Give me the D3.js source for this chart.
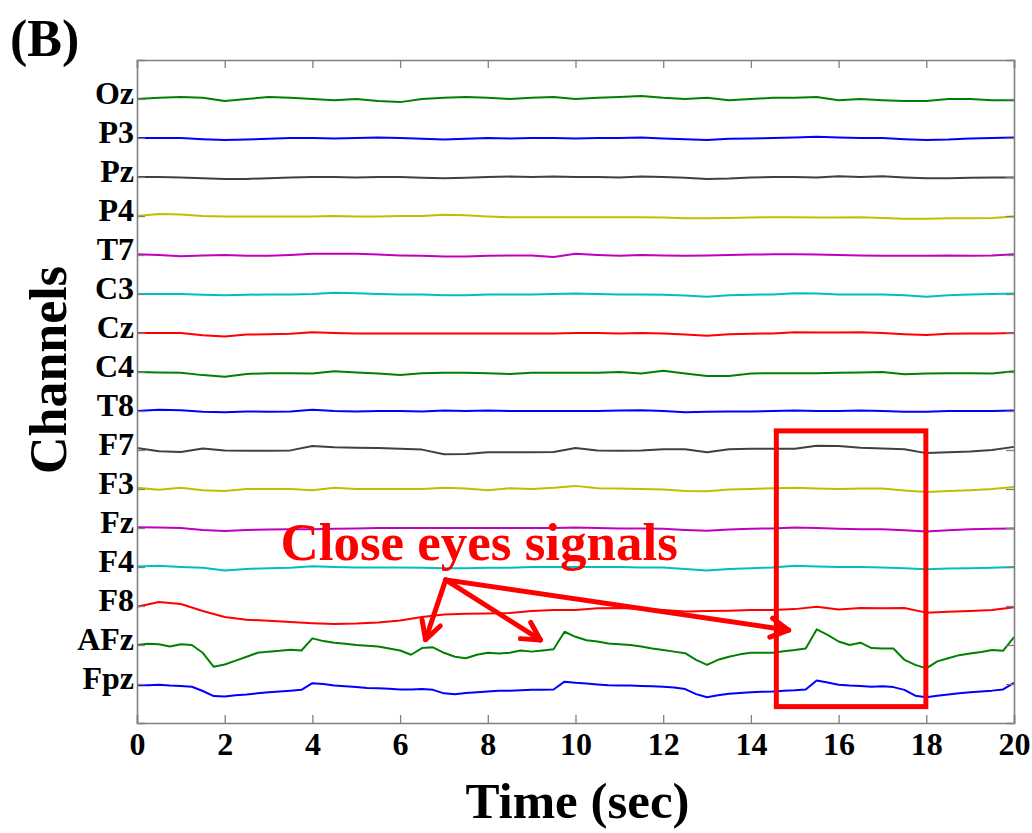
<!DOCTYPE html>
<html>
<head>
<meta charset="utf-8">
<script src="https://cdn.jsdelivr.net/npm/d3@7"></script>
<style>
body { margin: 0; background: #fff; }
text { font-family: "Liberation Serif", "Times New Roman", serif; font-weight: bold; }
</style>
</head>
<body>
<script>
// channel names, bottom to top (plot order)
var channels = ["Fpz", "AFz", "F8", "F4", "Fz", "F3", "F7", "T8", "C4", "Cz", "C3", "T7", "P4", "Pz", "P3", "Oz"];
// matlab default colour order
var colors = ["#0000ff", "#008000", "#ff0000", "#00bfbf", "#bf00bf", "#bfbf00", "#404040"];
var xTicks = [0, 2, 4, 6, 8, 10, 12, 14, 16, 18, 20];

// signals in uV, 0.25 s steps
var fpz = [-3,-3,-2,-4,-5,-7,-18,-31,-32,-29, -27,-24,-21,-19,-17,-15,2,0,-4,-6,
	-8,-10,-11,-12,-14,-14,-13,-15,-24,-26, -23,-21,-19,-17,-17,-16,-15,-15,-14,6,
	3,1,-1,-3,-4,-4,-5,-6,-7,-9, -13,-26,-34,-29,-25,-23,-21,-20,-19,-17,
	-16,-14,9,4,-2,-4,-5,-7,-6,-8, -15,-30,-34,-30,-27,-24,-21,-19,-17,-14, 3];
var afz = [0,3,2,-4,2,0,-20,-56,-50,-40, -30,-20,-17,-15,-12,-14,17,10,6,3,
	0,-2,-4,-9,-14,-25,-8,-6,-20,-30, -34,-25,-20,-22,-20,-14,-17,-14,-11,34,
	21,12,9,4,2,0,-4,-9,-13,-17, -21,-38,-51,-38,-30,-24,-20,-20,-20,-16,
	-13,-9,40,26,9,0,6,-8,-9,-9, -38,-51,-60,-42,-34,-26,-22,-18,-13,-15, 20];

// signals in uV, 0.5 s steps
var f8 = [-2,10,5,-13,-28,-35,-38,-41,-44,-46, -45,-42,-37,-28,-22,-20,-19,-18,-13,-10,
	-10,-6,-5,-8,-10,-14,-13,-12,-10,-10, -8,-2,-9,-5,-6,-5,-17,-15,-13,-10, -3];
var f4 = [1,3,0,-2,-9,-5,-3,-2,2,0, -1,-1,-1,-2,-3,-3,-2,-2,0,0,
	0,0,0,-1,-1,-5,-9,-5,-3,-1, 3,1,0,0,-1,-3,-6,-4,-3,-2, 0];
var fz = [2,1,0,-5,-8,-5,-4,-3,-3,-2, -1,0,0,0,0,0,0,0,0,0,
	1,0,-1,-1,-2,-5,-7,-4,-2,-1, 1,0,-2,-3,-3,-6,-9,-6,-3,-2, -1];
var f3 = [3,-2,3,-3,-5,0,0,0,-3,3, 0,0,0,0,3,1,-3,2,0,3,
	8,2,1,0,-1,-5,-6,-1,0,2, 3,1,0,1,1,-4,-8,-5,-3,0, 5];
var f7 = [5,-3,-5,4,-1,-2,-2,-1,10,7, 6,5,3,1,-11,-10,-6,-6,-6,-5,
	5,-1,-2,-1,2,2,-6,2,3,3, 3,11,10,6,4,2,-8,-6,-4,0, 8];
var t8 = [0,3,2,-2,-3,-1,-2,-1,3,0, -1,0,0,-1,1,0,1,0,0,0,
	0,0,1,2,0,-3,-2,-1,-1,0, 1,0,0,1,0,-2,-2,0,0,0, 1];
var c4 = [0,-1,-2,-8,-12,-5,-3,-3,-4,2, -1,-4,-8,-3,-2,-2,-3,-5,-2,-2,
	-2,-2,0,-4,3,-4,-10,-10,-4,-3, -3,-3,-2,-1,0,-6,-4,-3,-3,-4, 2];
var cz = [0,0,0,-6,-9,-4,-3,-2,2,0, -1,-1,-1,-1,-1,-1,-1,-1,-1,-1,
	0,0,-1,0,-1,-4,-7,-3,-2,-1, 2,1,1,2,0,-3,-5,-2,-1,-1, 0];
var c3 = [0,0,0,-2,-3,-2,-1,-1,0,3, 2,0,-1,-1,-3,-3,-1,-1,-1,0,
	1,0,-1,-1,-2,-4,-7,-3,-2,-1, 2,1,-1,-1,-1,-3,-7,-3,-1,0, 1];
var t7 = [2,0,-3,-1,0,-2,-2,0,3,3, 3,1,-1,-2,-4,-4,-2,-1,-1,-5,
	3,0,-2,0,-1,-2,-1,0,1,2, 2,1,0,-1,-2,-2,-2,-1,-2,-1, 2];
var p4 = [0,5,4,0,-1,-1,-1,-1,-1,0, -1,-1,0,0,3,2,-1,-3,-3,-3,
	-3,-3,-3,-3,-4,-6,-6,-5,-4,-3, -3,-4,-4,-3,-5,-7,-7,-6,-6,-5, -1];
var pz = [0,0,-1,-3,-5,-5,-3,-1,0,0, -1,0,0,-2,-3,-2,0,1,0,1,
	0,0,-1,1,0,-2,-5,-4,-1,0, 0,-1,2,0,2,-1,-3,-3,-2,-1, -1];
var p3 = [0,0,0,-3,-5,-4,-2,0,0,-1, 0,1,0,-2,-4,-2,0,-1,0,0,
	-1,0,0,1,-1,-3,-5,-2,-1,0, 1,3,1,0,0,-3,-5,-4,-1,0, 1];
var oz = [0,3,5,3,-5,0,5,3,0,-3, 0,-5,-8,0,3,5,3,0,3,5,
	0,3,5,8,3,0,3,-3,0,3, 3,5,-3,0,-3,-5,-5,0,0,-3, -3];

var signals = [fpz, afz, f8, f4, fz, f3, f7, t8, c4, cz, c3, t7, p4, pz, p3, oz];
var spacing = 100; // uV between channels
var duration = 20;

// annotation (time in sec, rows in channel units)
var noteText = "Close eyes signals";
var notePos = [3.27, 4.18];
var arrowFrom = [7.04, 3.67];
var arrowTips = [[6.58, 2.14], [9.2, 2.13], [14.86, 2.38]];
var boxTime = [14.58, 17.99];
var boxRows = [0.42, 7.49];

var W = 1032, H = 833;
var margin = {top: 60, right: 18, bottom: 110, left: 137};

var svg = d3.select("body").append("svg")
	.attr("width", W)
	.attr("height", H);

var x = d3.scaleLinear().domain([0, duration]).range([margin.left, W - margin.right]);
var y = d3.scaleLinear().domain([0, channels.length + 1]).range([H - margin.bottom, margin.top]);

// traces
var line = d3.line()
	.x(function(d) { return x(d[0]); })
	.y(function(d) { return y(d[1]); });

for (var i = 0; i < signals.length; i++) {
	var s = signals[i];
	var dt = duration / (s.length - 1);
	var pts = s.map(function(v, k) { return [k * dt, (i + 1) + v / spacing]; });
	svg.append("path")
		.attr("d", line(pts))
		.attr("fill", "none")
		.attr("stroke", colors[i % colors.length])
		.attr("stroke-width", 2)
		.attr("stroke-linejoin", "round");
}

// axes, matlab style inward ticks
var axisColor = "#808080";
var rows = d3.range(1, channels.length + 1);

var gx = svg.append("g")
	.attr("transform", "translate(0," + y(0) + ")")
	.call(d3.axisBottom(x).tickValues(xTicks).tickSize(-8).tickPadding(9).tickFormat(d3.format("d")));
gx.selectAll("text").attr("font-size", 32).attr("fill", "#000");

var gt = svg.append("g")
	.attr("transform", "translate(0," + y(channels.length + 1) + ")")
	.call(d3.axisTop(x).tickValues(xTicks).tickSize(-8).tickFormat(""));

var gy = svg.append("g")
	.attr("transform", "translate(" + x(0) + ",0)")
	.call(d3.axisLeft(y).tickValues(rows).tickSize(-8).tickPadding(3)
		.tickFormat(function(d) { return channels[d - 1]; }));
gy.selectAll("text").attr("font-size", 32).attr("dy", "0.15em").attr("fill", "#000");

var gr = svg.append("g")
	.attr("transform", "translate(" + x(duration) + ",0)")
	.call(d3.axisRight(y).tickValues(rows).tickSize(-8).tickFormat(""));

[gx, gt, gy, gr].forEach(function(g) {
	g.select(".domain").attr("stroke", axisColor).attr("stroke-width", 1.6);
	g.selectAll(".tick line").attr("stroke", axisColor).attr("stroke-width", 1.3);
});

// titles
svg.append("text")
	.attr("x", 10)
	.attr("y", 56)
	.attr("font-size", 52)
	.text("(B)");

svg.append("text")
	.attr("transform", "translate(66,370) rotate(-90)")
	.attr("text-anchor", "middle")
	.attr("font-size", 52)
	.text("Channels");

svg.append("text")
	.attr("x", (x(0) + x(duration)) / 2 + 2)
	.attr("y", 818)
	.attr("text-anchor", "middle")
	.attr("font-size", 51)
	.text("Time (sec)");

// annotation
var red = "#ff0000";
svg.append("rect")
	.attr("x", x(boxTime[0]))
	.attr("y", y(boxRows[1]))
	.attr("width", x(boxTime[1]) - x(boxTime[0]))
	.attr("height", y(boxRows[0]) - y(boxRows[1]))
	.attr("fill", "none")
	.attr("stroke", red)
	.attr("stroke-width", 5);

svg.append("text")
	.attr("x", x(notePos[0]))
	.attr("y", y(notePos[1]))
	.attr("font-size", 53)
	.attr("fill", red)
	.text(noteText);

var x0 = x(arrowFrom[0]), y0 = y(arrowFrom[1]);
arrowTips.forEach(function(tip) {
	var x1 = x(tip[0]), y1 = y(tip[1]);
	var ang = Math.atan2(y1 - y0, x1 - x0);
	var len = 20, wing = 0.5;
	svg.append("line")
		.attr("x1", x0).attr("y1", y0)
		.attr("x2", x1).attr("y2", y1)
		.attr("stroke", red)
		.attr("stroke-width", 5)
		.attr("stroke-linecap", "round");
	[-wing, wing].forEach(function(a) {
		svg.append("line")
			.attr("x1", x1).attr("y1", y1)
			.attr("x2", x1 - len * Math.cos(ang + a))
			.attr("y2", y1 - len * Math.sin(ang + a))
			.attr("stroke", red)
			.attr("stroke-width", 5)
			.attr("stroke-linecap", "round");
	});
});
</script>
</body>
</html>
